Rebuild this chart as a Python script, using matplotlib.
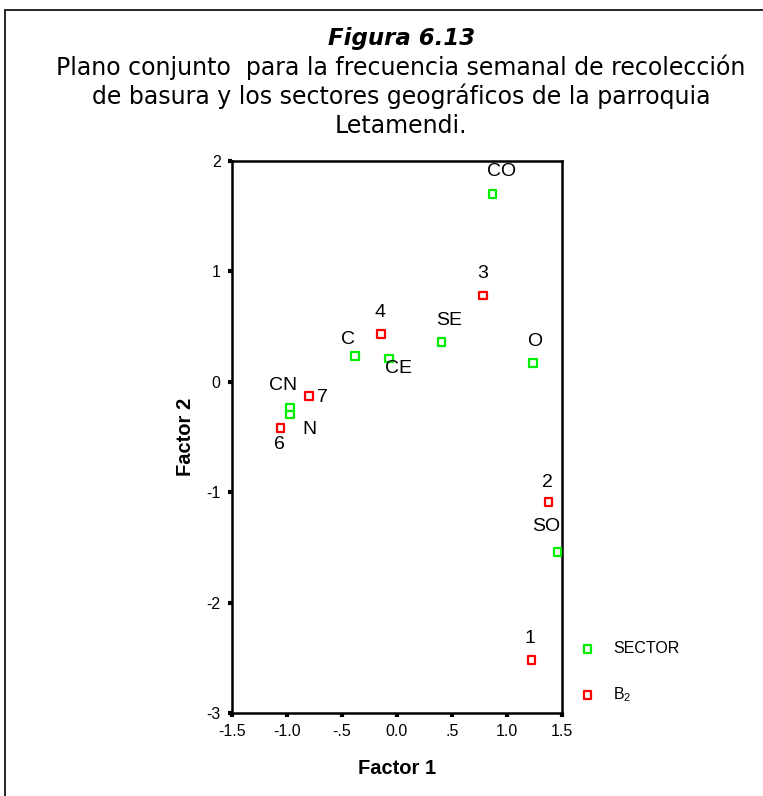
import matplotlib
matplotlib.use("Agg")
import matplotlib.pyplot as plt
from matplotlib.patches import Rectangle

plt.rcParams['mathtext.default'] = 'regular'

# sector coordinates (green)
sector_labels = ['CO', 'SE', 'O', 'C', 'CE', 'CN', 'N', 'SO']
sector_x = [0.87, 0.405, 1.237, -0.38, -0.07, -0.97, -0.97, 1.458]
sector_y = [1.70, 0.357, 0.17, 0.23, 0.21, -0.235, -0.296, -1.54]

# B2 frequency coordinates (red)
b2_labels = ['3', '4', '7', '6', '2', '1']
b2_x = [0.78, -0.145, -0.80, -1.055, 1.377, 1.222]
b2_y = [0.78, 0.43, -0.13, -0.42, -1.09, -2.52]

x_ticks = [-1.5, -1.0, -0.5, 0.0, 0.5, 1.0, 1.5]
x_ticklabels = ['-1.5', '-1.0', '-.5', '0.0', '.5', '1.0', '1.5']
y_ticks = [2, 1, 0, -1, -2, -3]

# label offsets in pixels (dx, dy)
sector_off = {'CO': (9, 22), 'SE': (8, 22), 'O': (2, 21), 'C': (-7, 17), 'CE': (9, -10),
              'CN': (-7, 22), 'N': (19, -15), 'SO': (-11, 25)}
b2_off = {'3': (0, 22), '4': (-1, 22), '7': (14, -2), '6': (-1, -16), '2': (-1, 20), '1': (-1, 21)}

fig = plt.figure(figsize=(7.63, 7.96), dpi=100)
fig.patches.append(Rectangle((5 / 763, -0.01), 1.0, 1 - 10 / 796 + 0.01, transform=fig.transFigure,
                             fill=False, edgecolor='black', linewidth=1.2))

fig.text(402 / 763, 1 - 45 / 796, 'Figura 6.13', ha='center', va='baseline', fontsize=16.5,
         fontweight='bold', fontstyle='italic', family='DejaVu Sans')
subtitle = ['Plano conjunto  para la frecuencia semanal de recolección',
            'de basura y los sectores geográficos de la parroquia',
            'Letamendi.']
for i, line in enumerate(subtitle):
    fig.text(401 / 763, 1 - (75 + 29 * i) / 796, line, ha='center', va='baseline', fontsize=17,
             family='DejaVu Sans')

ax = fig.add_axes([231.7 / 763, 1 - 713 / 796, (562 - 231.7) / 763, (713 - 160.7) / 796])
ax.set_xlim(-1.5, 1.5)
ax.set_ylim(-3, 2)

sc1 = ax.scatter(sector_x, sector_y, marker='s', s=30, facecolors='none', edgecolors='#00ee00',
                 linewidths=1.6, label='SECTOR', clip_on=False, zorder=3)
sc2 = ax.scatter(b2_x, b2_y, marker='s', s=30, facecolors='none', edgecolors='#ff0000',
                 linewidths=1.6, label='B$_2$', clip_on=False, zorder=3)

for lab, x, y in zip(sector_labels, sector_x, sector_y):
    ax.annotate(lab, (x, y), xytext=sector_off[lab], textcoords='offset pixels', ha='center',
                va='center', fontsize=14, family='Liberation Sans')
for lab, x, y in zip(b2_labels, b2_x, b2_y):
    ax.annotate(lab, (x, y), xytext=b2_off[lab], textcoords='offset pixels', ha='center',
                va='center', fontsize=14, family='Liberation Sans')

ax.set_xticks(x_ticks)
ax.set_xticklabels(x_ticklabels, family='Liberation Sans', fontsize=11.5)
ax.set_yticks(y_ticks)
ax.set_yticklabels([str(v) for v in y_ticks], family='Liberation Sans', fontsize=11.5)
ax.tick_params(direction='out', length=3, width=3, pad=5)
for sp in ax.spines.values():
    sp.set_linewidth(1.8)

ax.set_xlabel('Factor 1', fontsize=14.5, fontweight='bold', family='Liberation Sans', labelpad=14)
ax.set_ylabel('Factor 2', fontsize=14.5, fontweight='bold', family='Liberation Sans', labelpad=8)

leg = ax.legend(handles=[sc1, sc2], loc='center left', bbox_to_anchor=(0.985, 0.073), frameon=False,
                prop={'family': 'Liberation Sans', 'size': 11.5}, labelspacing=1.8, handletextpad=0.6)

plt.savefig('out.png', dpi=100)
